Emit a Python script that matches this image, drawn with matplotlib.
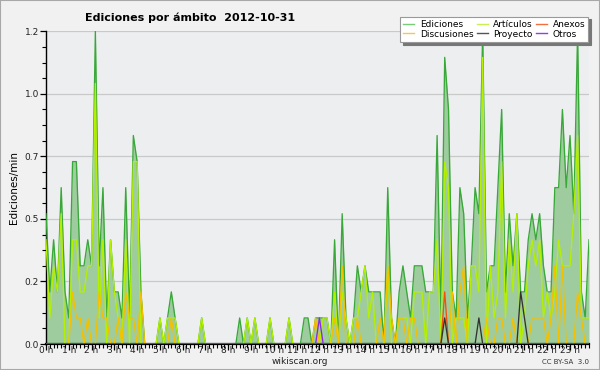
import matplotlib
matplotlib.use("Agg")
import matplotlib.pyplot as plt
from matplotlib.lines import Line2D
import numpy as np

plt.rcParams['font.family'] = ['DejaVu Sans']

# 10-minute buckets, 144 per day (edits per minute)
ediciones = [
    0.5, 0.2, 0.4, 0.2, 0.6, 0.2,
    0.1, 0.7, 0.7, 0.3, 0.3, 0.4,
    0.3, 1.2, 0.3, 0.6, 0.1, 0.4,
    0.2, 0.2, 0.1, 0.6, 0.1, 0.8,
    0.7, 0.2, 0.0, 0.0, 0.0, 0.0,
    0.1, 0.0, 0.1, 0.2, 0.1, 0.0,
    0.0, 0.0, 0.0, 0.0, 0.0, 0.1,
    0.0, 0.0, 0.0, 0.0, 0.0, 0.0,
    0.0, 0.0, 0.0, 0.1, 0.0, 0.1,
    0.0, 0.1, 0.0, 0.0, 0.0, 0.1,
    0.0, 0.0, 0.0, 0.0, 0.1, 0.0,
    0.0, 0.0, 0.1, 0.1, 0.0, 0.1,
    0.1, 0.1, 0.1, 0.0, 0.4, 0.0,
    0.5, 0.1, 0.0, 0.1, 0.3, 0.2,
    0.3, 0.2, 0.2, 0.2, 0.2, 0.0,
    0.6, 0.1, 0.0, 0.2, 0.3, 0.2,
    0.1, 0.3, 0.3, 0.3, 0.2, 0.2,
    0.2, 0.8, 0.1, 1.1, 0.9, 0.2,
    0.1, 0.6, 0.5, 0.1, 0.3, 0.6,
    0.5, 1.2, 0.2, 0.3, 0.3, 0.6,
    0.9, 0.2, 0.5, 0.3, 0.5, 0.2,
    0.2, 0.4, 0.5, 0.4, 0.5, 0.3,
    0.2, 0.2, 0.6, 0.6, 0.9, 0.6,
    0.8, 0.5, 1.2, 0.2, 0.1, 0.4,
]

articulos = [
    0.4, 0.1, 0.3, 0.2, 0.5, 0.0,
    0.0, 0.4, 0.4, 0.2, 0.2, 0.3,
    0.3, 1.0, 0.1, 0.4, 0.0, 0.4,
    0.2, 0.1, 0.0, 0.4, 0.0, 0.7,
    0.7, 0.0, 0.0, 0.0, 0.0, 0.0,
    0.1, 0.0, 0.1, 0.1, 0.1, 0.0,
    0.0, 0.0, 0.0, 0.0, 0.0, 0.1,
    0.0, 0.0, 0.0, 0.0, 0.0, 0.0,
    0.0, 0.0, 0.0, 0.0, 0.0, 0.1,
    0.0, 0.1, 0.0, 0.0, 0.0, 0.1,
    0.0, 0.0, 0.0, 0.0, 0.1, 0.0,
    0.0, 0.0, 0.0, 0.0, 0.0, 0.0,
    0.0, 0.1, 0.1, 0.0, 0.2, 0.0,
    0.2, 0.1, 0.0, 0.1, 0.1, 0.2,
    0.3, 0.1, 0.2, 0.0, 0.0, 0.0,
    0.3, 0.0, 0.0, 0.1, 0.1, 0.1,
    0.0, 0.2, 0.2, 0.2, 0.0, 0.2,
    0.2, 0.4, 0.0, 0.7, 0.6, 0.0,
    0.1, 0.1, 0.1, 0.0, 0.3, 0.3,
    0.2, 1.1, 0.0, 0.3, 0.1, 0.2,
    0.7, 0.1, 0.4, 0.2, 0.5, 0.0,
    0.1, 0.3, 0.4, 0.3, 0.4, 0.1,
    0.2, 0.1, 0.2, 0.4, 0.3, 0.3,
    0.3, 0.5, 0.8, 0.1, 0.1, 0.1,
]

discusiones = [
    0.0, 0.0, 0.0, 0.0, 0.0, 0.0,
    0.0, 0.2, 0.1, 0.1, 0.0, 0.1,
    0.0, 0.0, 0.2, 0.1, 0.1, 0.0,
    0.0, 0.1, 0.0, 0.2, 0.1, 0.1,
    0.0, 0.2, 0.0, 0.0, 0.0, 0.0,
    0.0, 0.0, 0.0, 0.1, 0.0, 0.0,
    0.0, 0.0, 0.0, 0.0, 0.0, 0.0,
    0.0, 0.0, 0.0, 0.0, 0.0, 0.0,
    0.0, 0.0, 0.0, 0.0, 0.0, 0.0,
    0.0, 0.0, 0.0, 0.0, 0.0, 0.0,
    0.0, 0.0, 0.0, 0.0, 0.0, 0.0,
    0.0, 0.0, 0.0, 0.0, 0.0, 0.1,
    0.0, 0.0, 0.0, 0.0, 0.1, 0.0,
    0.3, 0.0, 0.0, 0.0, 0.1, 0.0,
    0.0, 0.0, 0.0, 0.0, 0.1, 0.0,
    0.3, 0.1, 0.0, 0.1, 0.1, 0.0,
    0.1, 0.1, 0.0, 0.0, 0.0, 0.0,
    0.0, 0.0, 0.0, 0.0, 0.0, 0.2,
    0.0, 0.2, 0.3, 0.0, 0.0, 0.0,
    0.0, 0.0, 0.1, 0.0, 0.0, 0.1,
    0.1, 0.0, 0.0, 0.1, 0.0, 0.0,
    0.0, 0.0, 0.1, 0.1, 0.1, 0.1,
    0.0, 0.1, 0.3, 0.0, 0.3, 0.0,
    0.0, 0.0, 0.2, 0.1, 0.0, 0.0,
]

# sparse series: bucket index -> edits/min
anexos_pts = {105: 0.2}
proyecto_pts = {105: 0.1, 114: 0.1, 125: 0.2, 126: 0.1}
otros_pts = {72: 0.1}

hour_labels = ["%d h" % h for h in range(24)]
ytick_vals = [0.0, 0.24, 0.48, 0.72, 0.96, 1.2]
ytick_labels = ["0.0", "0.2", "0.5", "0.7", "1.0", "1.2"]

n = len(ediciones)
x = np.arange(n)

def sparse(d):
    arr = np.zeros(n)
    for k, v in d.items():
        arr[k] = v
    return arr

anexos = sparse(anexos_pts)
proyecto = sparse(proyecto_pts)
otros = sparse(otros_pts)

fig = plt.figure(figsize=(6, 3.7), dpi=100, facecolor='#f1f1f1')
ax = fig.add_axes([46/600, 1 - 344/370, (589-46)/600, (344-31.3)/370])
ax.set_facecolor('#edeef0')

# figure border
fig.patches.append(plt.Rectangle((0, 0), 1, 1, transform=fig.transFigure,
                                 fill=False, edgecolor='#a8a8a8', linewidth=1.5))

lw = 0.95
ax.fill_between(x, 0, ediciones, color='#9fcc9f', linewidth=0, zorder=2)
ax.plot(x, articulos, color='#b4f000', lw=lw, zorder=4)
ax.plot(x, discusiones, color='#f4c000', lw=lw, zorder=5)
ax.plot(x, anexos, color='#f05010', lw=lw, zorder=6)
ax.plot(x, proyecto, color='#333333', lw=lw, zorder=7)
ax.plot(x, otros, color='#8a2be2', lw=lw, zorder=8)
ax.plot(x, ediciones, color='#38a838', lw=lw, zorder=3)

ax.set_xlim(0, n - 1)
ax.set_ylim(0, 1.2)

for s in ['top', 'right']:
    ax.spines[s].set_visible(False)
ax.spines['left'].set_linewidth(1.0)
ax.spines['bottom'].set_linewidth(1.6)

ax.set_yticks(ytick_vals)
ax.set_yticklabels(ytick_labels, fontsize=6.5, color='#222222')
ax.set_yticks(np.arange(0, 1.21, 0.06), minor=True)
ax.set_xticks(np.arange(0, n, 6))
ax.set_xticklabels(hour_labels, fontsize=6.5, color='#222222')
ax.set_xticks(np.arange(0, n, 1), minor=True)
ax.tick_params(axis='y', which='major', length=4, width=0.9, pad=1)
ax.tick_params(axis='y', which='minor', length=3, width=0.8)
ax.tick_params(axis='x', which='major', length=4, width=0.9, pad=-2.5)
ax.tick_params(axis='x', which='minor', length=3, width=0.8)
ax.grid(axis='y', which='major', color='#c9c9c9', linewidth=0.9, zorder=1)
ax.set_axisbelow(True)

ax.set_ylabel('Ediciones/min', fontsize=7.5, labelpad=4)
fig.text(85/600, 1 - 18/370, 'Ediciones por ámbito  2012-10-31', fontsize=8,
         fontweight='bold', ha='left', va='center')
fig.text(300/600, 1 - 362/370, 'wikiscan.org', fontsize=6.5, ha='center', va='center',
         color='#222222')
fig.text(589/600, 1 - 362/370, 'CC BY-SA  3.0', fontsize=5, ha='right', va='center',
         color='#333333')

handles = [
    Line2D([], [], color='#77cc77', lw=1),
    Line2D([], [], color='#f4c850', lw=1),
    Line2D([], [], color='#c8f050', lw=1),
    Line2D([], [], color='#555555', lw=1),
    Line2D([], [], color='#f07040', lw=1),
    Line2D([], [], color='#9040e0', lw=1),
]
labels = ['Ediciones', 'Discusiones', 'Artículos', 'Proyecto', 'Anexos', 'Otros']
leg = fig.legend(handles, labels, ncol=3, loc='upper right',
                 bbox_to_anchor=(593/600, 1 - 12/370), fontsize=6.5,
                 frameon=True, fancybox=False, edgecolor='#999999',
                 facecolor='white', framealpha=1,
                 shadow={'color': '#777777', 'alpha': 1},
                 handlelength=1.2, handletextpad=0.6, columnspacing=0.4,
                 labelspacing=0.1, borderpad=0.35)
leg.get_frame().set_linewidth(0.8)

fig.savefig('out.png', dpi=100, facecolor=fig.get_facecolor())
